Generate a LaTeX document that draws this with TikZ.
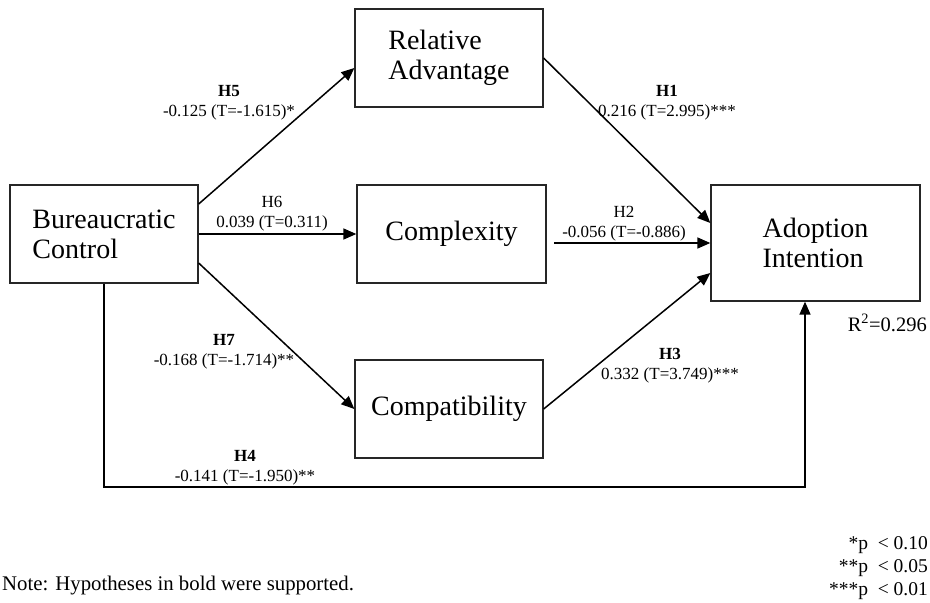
\documentclass[tikz,border=0pt]{standalone}
\usepackage{fontspec}
\setmainfont{Liberation Serif}
\usetikzlibrary{arrows.meta}

\begin{document}
\begin{tikzpicture}[x=1pt, y=-1pt]
    \tikzstyle{construct} = [rectangle, minimum width=188pt, minimum height=98pt, align=left, draw=black!85, line width=1.3pt, font=\fontsize{28}{30}\selectfont]
    \tikzstyle{pathlabel} = [align=center, inner sep=0pt, font=\fontsize{17}{20}\selectfont]
    \tikzstyle{arrow} = [line width=1.5pt, line join=miter, -{Triangle[length=13pt, width=11pt]}]

    \useasboundingbox (0,0) rectangle (930,603);

    \node (bc) [construct] at (104,234) {Bureaucratic\\Control};
    \node (ra) [construct] at (449,58) {Relative\\Advantage};
    \node (cx) [construct, minimum width=189pt] at (451.5,234) {Complexity};
    \node (cp) [construct] at (449,409) {Compatibility};
    \node (ai) [construct, minimum width=209pt, minimum height=116pt] at (815.5,243) {Adoption\\Intention};

    \coordinate (h2s) at (554,243);
    \coordinate (h4a) at (104,487);
    \coordinate (h4b) at (805,487);

    \draw [arrow] ([yshift=30pt]bc.east) -- ([yshift=-10pt]ra.west);
    \draw [arrow] (bc.east) -- (cx.west);
    \draw [arrow] ([yshift=-29pt]bc.east) -- (cp.west);
    \draw [arrow] (ra.east) -- ([yshift=20pt]ai.west);
    \draw [arrow] (h2s) -- (ai.west);
    \draw [arrow] (cp.east) -- ([yshift=-30pt]ai.west);
    \draw [arrow] (bc.south) -- (h4a) -- (h4b) -- (ai.south -| h4b);

    \node (h5) [pathlabel] at (229,103) {\textbf{H5}\\-0.125 (T=-1.615)*};
    \node (h6) [pathlabel] at (272,214) {H6\\0.039 (T=0.311)};
    \node (h7) [pathlabel] at (224,352) {\textbf{H7}\\-0.168 (T=-1.714)**};
    \node (h1) [pathlabel] at (667,103) {\textbf{H1}\\0.216 (T=2.995)***};
    \node (h2) [pathlabel] at (624,224) {H2\\-0.056 (T=-0.886)};
    \node (h3) [pathlabel] at (670,366) {\textbf{H3}\\0.332 (T=3.749)***};
    \node (h4) [pathlabel] at (245,468) {\textbf{H4}\\-0.141 (T=-1.950)**};

    \node (rsq) [inner sep=0pt, anchor=base east, font=\fontsize{20.5}{23}\selectfont] at (927,331) {R\textsuperscript{2}=0.296};
    \node (sig) [inner sep=0pt, anchor=east, align=right, font=\fontsize{19.5}{23}\selectfont] at (928,568.5) {*p\ \ < 0.10\\**p\ \ < 0.05\\***p\ \ < 0.01};
    \node (note) [inner sep=0pt, anchor=base west, font=\fontsize{20.8}{23}\selectfont] at (2,590) {Note: Hypotheses in bold were supported.};
\end{tikzpicture}
\end{document}
